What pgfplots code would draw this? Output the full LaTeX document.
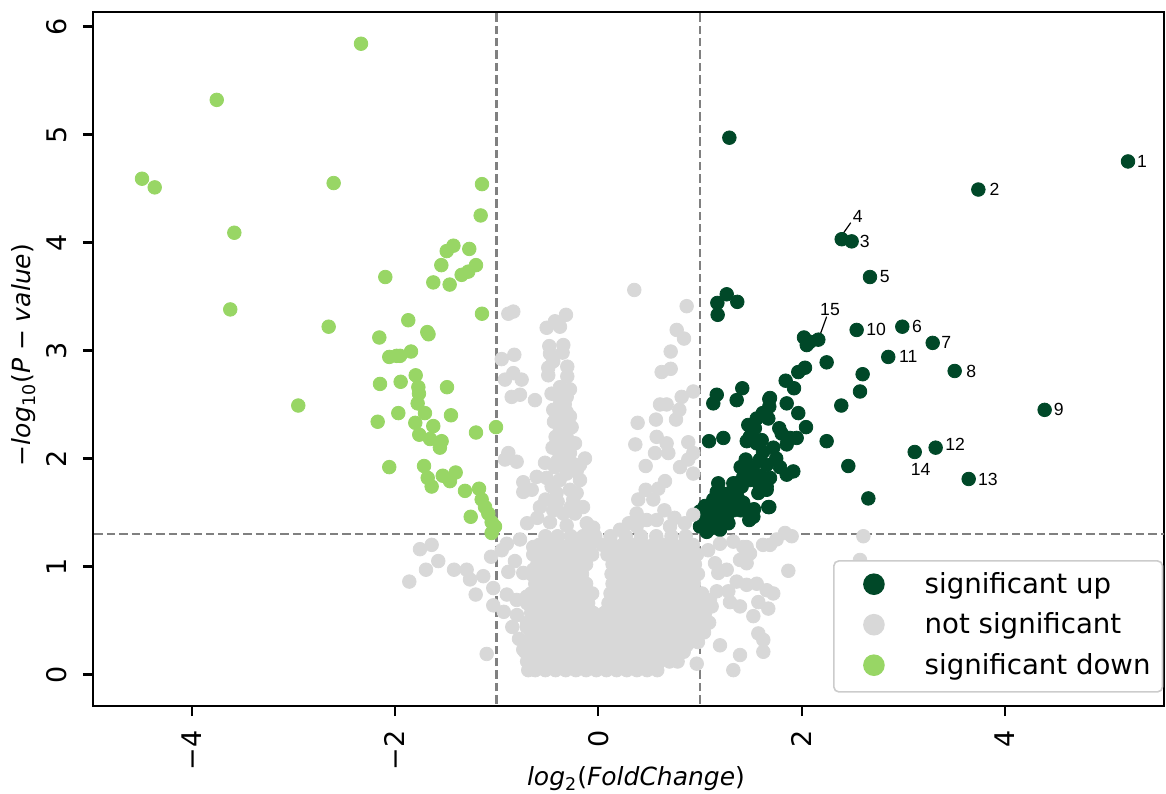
\documentclass[border=0pt]{standalone}
\usepackage{fontspec}
\setmainfont{DejaVu Sans}
\newfontfamily\labelfont{Liberation Sans}
\usepackage{pgfplots}
\pgfplotsset{compat=1.18}
\definecolor{upc}{RGB}{0,72,40}
\definecolor{nsc}{RGB}{216,216,216}
\definecolor{downc}{RGB}{152,214,101}
\newcommand{\ptlab}{\labelfont\fontsize{8.8}{10}\selectfont}
\begin{document}
\begin{tikzpicture}
\useasboundingbox (-46.5pt,-43.5pt) rectangle (536.5pt,353pt);
\begin{axis}[
  scale only axis, width=535.5pt, height=346.85pt,
  xmin=-4.97, xmax=5.564, ymin=-0.292, ymax=6.131,
  axis line style={line width=1.1pt},
  xtick={-4,-2,0,2,4}, xticklabels={−4,−2,0,2,4},
  ytick={0,1,2,3,4,5,6}, yticklabels={0,1,2,3,4,5,6},
  xtick pos=left, ytick pos=left,
  tick align=outside, major tick length=5pt,
  tick style={line width=1.1pt, black},
  xticklabel style={font=\fontsize{13.5}{16}\selectfont, yshift=-7pt, rotate=90, anchor=east, inner sep=0pt},
  yticklabel style={font=\fontsize{13.5}{16}\selectfont, xshift=-8pt, rotate=90, anchor=base, inner sep=0pt},
  xlabel={{\itshape log}\textsubscript{\upshape 2}({\itshape FoldChange})},
  xlabel style={at={(axis description cs:0.507,-0.1153)}, anchor=base, font=\fontsize{12.5}{15}\selectfont},
  ylabel={−{\itshape log}\textsubscript{\upshape 10}({\itshape P} − {\itshape value})},
  ylabel style={at={(axis description cs:-0.0579,0.506)}, anchor=base, font=\fontsize{12.5}{15}\selectfont},
  legend cell align=left,
  legend image code/.code={\fill (0pt,0.85pt) circle (5pt); \path (-13.65pt,0pt);},
  legend style={at={(axis description cs:1,0)}, anchor=south east, xshift=-0.35pt, yshift=6.65pt,
    draw=black!20, line width=0.8pt, rounded corners=2.5pt, fill=white,
    font=\fontsize{13.8}{16}\selectfont, inner xsep=6pt, inner ysep=5.8pt, row sep=6.85pt,
    nodes={inner sep=0pt, text height=10.4pt, text depth=3pt},
    /tikz/every odd column/.append style={column sep=20pt}},
]
% significant up
\addplot[only marks, color=upc, mark=*, mark size=3.4pt, mark options={draw=none}] coordinates {
(1.289,4.97) (5.210,4.75) (3.738,4.49) (2.394,4.03) (2.492,4.01) (2.672,3.68)
(1.263,3.52) (1.171,3.44) (1.367,3.45) (1.174,3.33) (2.541,3.19) (2.990,3.22)
(3.289,3.07) (2.852,2.94) (3.505,2.81) (4.390,2.45) (3.318,2.10) (3.112,2.06)
(3.643,1.81) (2.023,3.12) (2.082,3.08) (2.164,3.10) (2.050,3.05) (2.246,2.89)
(2.600,2.78) (2.574,2.62) (2.390,2.49) (2.246,2.16) (2.459,1.93) (2.656,1.63)
(1.967,2.80) (2.033,2.84) (1.843,2.72) (1.925,2.65) (1.416,2.65) (1.165,2.59)
(1.131,2.51) (1.361,2.54) (1.682,2.55) (1.682,2.48) (1.853,2.51) (1.967,2.42)
(2.043,2.29) (1.617,2.42) (1.558,2.37) (1.475,2.31) (1.672,2.37) (1.089,2.16)
(1.230,2.19) (1.460,2.16) (1.490,2.20) (1.607,2.17) (1.721,2.10) (1.804,2.23)
(1.886,2.19) (1.951,2.19) (1.853,2.13) (1.450,1.99) (1.590,1.99) (1.656,1.94)
(1.787,1.92) (1.853,1.85) (1.918,1.88) (1.689,1.82) (1.656,1.74) (1.180,1.77)
(1.328,1.77) (1.410,1.74) (1.492,1.80) (1.541,1.83) (1.165,1.69) (1.263,1.66)
(1.361,1.68) (1.574,1.68) (1.148,1.62) (1.230,1.59) (1.682,1.55) (1.531,1.53)
(1.485,1.43) (1.000,1.51) (1.099,1.49) (1.197,1.46) (1.263,1.46) (1.033,1.40)
(1.115,1.37) (1.197,1.34) (1.066,1.32) (1.689,2.56) (1.508,2.22) (1.558,2.14)
(1.214,1.68) (1.295,1.68) (1.361,1.77) (1.426,1.83) (1.492,1.88) (1.590,1.74)
(1.656,1.71) (1.131,1.62) (1.230,1.55) (1.328,1.52) (1.426,1.59) (1.508,1.52)
(1.525,1.46) (1.672,1.55) (1.000,1.49) (1.066,1.43) (1.165,1.49) (1.230,1.46)
(1.099,1.35) (1.197,1.35) (1.000,1.37) (1.050,1.56) (1.120,1.53) (1.300,1.60)
(1.380,1.62) (1.050,1.45) (1.150,1.41) (1.280,1.40) (1.400,1.52) (1.600,1.84)
(1.750,2.00) (1.780,2.28) (1.540,2.28) (1.620,2.06) (1.520,1.92) (1.400,1.92)
};
\addlegendentry{significant up}
% not significant
\addplot[only marks, color=nsc, mark=*, mark size=3.4pt, mark options={draw=none}] coordinates {
(0.354,3.56) (0.869,3.41) (0.771,3.19) (0.843,3.11) (0.712,2.99) (0.623,2.80)
(0.712,2.83) (0.820,2.57) (0.934,2.62) (0.607,2.50) (0.672,2.50) (0.797,2.45)
(0.764,2.36) (0.387,2.33) (0.567,2.36) (0.364,2.13) (0.574,2.20) (0.672,2.14)
(0.558,2.05) (0.689,2.05) (0.885,2.15) (0.466,1.93) (0.804,1.92) (0.885,1.99)
(0.934,2.05) (0.934,1.86) (0.656,1.79) (0.590,1.72) (0.466,1.71) (0.393,1.62)
(0.541,1.62) (0.377,1.49) (0.476,1.43) (0.574,1.43) (0.705,1.37) (0.213,1.34)
(0.377,1.37) (0.934,1.48) (0.750,1.45) (0.850,1.40) (0.650,1.52) (0.300,1.40)
(-0.885,3.34) (-0.836,3.36) (-0.508,3.21) (-0.426,3.27) (-0.318,3.33) (-0.377,3.22)
(-0.482,3.04) (-0.344,3.05) (-0.475,2.97) (-0.351,2.98) (-0.950,2.92) (-0.826,2.96)
(-0.443,2.90) (-0.492,2.84) (-0.305,2.85) (-0.492,2.77) (-0.305,2.76) (-0.836,2.79)
(-0.918,2.73) (-0.754,2.73) (-0.377,2.66) (-0.279,2.64) (-0.311,2.57) (-0.852,2.57)
(-0.770,2.59) (-0.623,2.54) (-0.443,2.45) (-0.377,2.50) (-0.311,2.43) (-0.436,2.34)
(-0.360,2.36) (-0.279,2.39) (-0.377,2.26) (-0.262,2.29) (-0.311,2.20) (-0.344,2.14)
(-0.229,2.14) (-0.377,2.05) (-0.279,2.05) (-0.885,2.05) (-0.803,1.97) (-0.918,1.99)
(-0.131,2.00) (-0.180,1.94) (-0.524,1.96) (-0.426,1.92) (-0.344,1.94) (-0.311,1.86)
(-0.213,1.88) (-0.180,1.80) (-0.606,1.83) (-0.508,1.82) (-0.738,1.78) (-0.738,1.69)
(-0.655,1.71) (-0.459,1.74) (-0.410,1.68) (-0.279,1.71) (-0.213,1.68) (-0.246,1.62)
(-0.574,1.55) (-0.443,1.52) (-0.344,1.49) (-0.229,1.49) (-0.114,1.40) (-0.475,1.41)
(-0.311,1.38) (-0.400,2.58) (-0.330,2.50) (-0.420,2.20) (-0.300,2.32) (-0.380,1.80)
(-0.270,1.55) (-0.400,1.60) (-0.520,1.62) (-0.150,1.55) (-0.600,1.45) (-0.700,1.40)
(-0.050,1.36) (-0.450,2.10) (-0.400,1.98) (-0.460,2.60) (-0.250,1.95)
(-1.754,1.16) (-1.639,1.20) (-1.574,1.05) (-1.695,0.97) (-1.859,0.86) (-1.419,0.97)
(-1.295,0.97) (-1.262,0.88) (-1.131,0.91) (-1.206,0.74) (-1.055,1.09) (-1.033,0.80)
(-1.033,0.64) (-1.098,0.19) (-0.900,1.21) (-0.770,1.25) (-0.640,1.18) (-0.885,0.95)
(-0.738,0.94) (-0.640,0.97) (-0.900,0.74) (-0.803,0.69) (-0.705,0.72) (-0.846,0.44)
(-0.705,0.44) (-0.738,0.23) (-0.689,0.04) (-0.606,0.26) (-0.80,0.55) (-0.82,1.05)
(-0.95,1.15) (-0.78,0.33) (-0.93,0.58)
(1.869,0.96) (2.607,1.28) (2.574,1.06) (1.836,1.31) (1.902,1.28) (1.689,1.20)
(1.754,1.25) (1.328,1.23) (1.426,1.18) (1.492,1.12) (1.459,1.03) (1.394,1.06)
(1.263,0.97) (1.148,1.03) (1.180,0.94) (1.361,0.86) (1.459,0.83) (1.558,0.84)
(1.656,0.78) (1.721,0.75) (1.165,0.77) (1.279,0.77) (1.295,0.67) (1.394,0.63)
(1.525,0.54) (1.574,0.67) (1.672,0.61) (1.115,0.63) (1.099,0.69) (1.574,0.38)
(1.623,0.32) (1.197,0.27) (1.394,0.18) (1.623,0.21) (1.328,0.04) (0.968,0.10)
(0.869,0.27) (1.197,1.21) (1.459,1.18) (1.620,1.20) (1.080,1.15)
(-0.62,0.04) (-0.52,0.04) (-0.42,0.04) (-0.32,0.04) (-0.22,0.04) (-0.12,0.04) (-0.02,0.04)
(0.08,0.04) (0.18,0.04) (0.28,0.04) (0.38,0.04) (0.48,0.04) (0.58,0.04)
(-0.70,0.12) (-0.60,0.12) (-0.50,0.12) (-0.40,0.12) (-0.30,0.12) (-0.20,0.12) (-0.10,0.12)
(0.00,0.12) (0.10,0.12) (0.20,0.12) (0.30,0.12) (0.40,0.12) (0.50,0.12) (0.60,0.12)
(0.70,0.12) (0.78,0.12)
(-0.72,0.21) (-0.65,0.21) (-0.55,0.21) (-0.45,0.21) (-0.35,0.21) (-0.25,0.21) (-0.15,0.21)
(-0.05,0.21) (0.05,0.21) (0.15,0.21) (0.25,0.21) (0.35,0.21) (0.45,0.21) (0.55,0.21)
(0.65,0.21) (0.75,0.21) (0.84,0.21)
(-0.70,0.30) (-0.60,0.30) (-0.50,0.30) (-0.40,0.30) (-0.30,0.30) (-0.20,0.30) (-0.10,0.30)
(0.00,0.30) (0.10,0.30) (0.20,0.30) (0.30,0.30) (0.40,0.30) (0.50,0.30) (0.60,0.30)
(0.70,0.30) (0.80,0.30) (0.90,0.30) (0.98,0.30)
(-0.66,0.39) (-0.55,0.39) (-0.45,0.39) (-0.35,0.39) (-0.25,0.39) (-0.15,0.39) (-0.05,0.39)
(0.05,0.39) (0.15,0.39) (0.25,0.39) (0.35,0.39) (0.45,0.39) (0.55,0.39) (0.65,0.39)
(0.75,0.39) (0.85,0.39) (0.95,0.39) (1.04,0.39)
(-0.70,0.48) (-0.60,0.48) (-0.50,0.48) (-0.40,0.48) (-0.30,0.48) (-0.20,0.48) (-0.10,0.48)
(0.00,0.48) (0.10,0.48) (0.20,0.48) (0.30,0.48) (0.40,0.48) (0.50,0.48) (0.60,0.48)
(0.70,0.48) (0.80,0.48) (0.90,0.48) (1.00,0.48) (1.09,0.48)
(-0.66,0.57) (-0.55,0.57) (-0.45,0.57) (-0.35,0.57) (-0.25,0.57) (-0.15,0.57) (-0.05,0.57)
(0.06,0.57) (0.15,0.57) (0.25,0.57) (0.35,0.57) (0.45,0.57) (0.55,0.57) (0.65,0.57)
(0.75,0.57) (0.85,0.57) (0.95,0.57) (1.05,0.57)
(-0.70,0.66) (-0.60,0.66) (-0.50,0.66) (-0.40,0.66) (-0.30,0.66) (-0.20,0.66) (-0.10,0.66)
(0.10,0.66) (0.20,0.66) (0.30,0.66) (0.40,0.66) (0.50,0.66) (0.60,0.66) (0.70,0.66)
(0.80,0.66) (0.90,0.66) (1.00,0.66)
(-0.66,0.75) (-0.55,0.75) (-0.45,0.75) (-0.35,0.75) (-0.25,0.75) (-0.15,0.75) (-0.06,0.75)
(0.12,0.75) (0.22,0.75) (0.32,0.75) (0.42,0.75) (0.52,0.75) (0.62,0.75) (0.72,0.75)
(0.82,0.75) (0.92,0.75) (1.02,0.75)
(-0.62,0.84) (-0.52,0.84) (-0.42,0.84) (-0.32,0.84) (-0.22,0.84) (-0.12,0.84)
(0.14,0.84) (0.24,0.84) (0.34,0.84) (0.44,0.84) (0.54,0.84) (0.64,0.84) (0.74,0.84)
(0.84,0.84) (0.94,0.84)
(-0.66,0.93) (-0.56,0.93) (-0.46,0.93) (-0.36,0.93) (-0.26,0.93) (-0.16,0.93)
(0.13,0.93) (0.20,0.93) (0.30,0.93) (0.40,0.93) (0.50,0.93) (0.60,0.93) (0.70,0.93)
(0.80,0.93) (0.90,0.93) (0.98,0.93)
(-0.60,1.02) (-0.50,1.02) (-0.40,1.02) (-0.30,1.02) (-0.20,1.02) (-0.12,1.02)
(0.14,1.02) (0.25,1.02) (0.35,1.02) (0.45,1.02) (0.55,1.02) (0.65,1.02) (0.75,1.02)
(0.85,1.02) (0.95,1.02)
(-0.64,1.11) (-0.55,1.11) (-0.45,1.11) (-0.35,1.11) (-0.25,1.11) (-0.15,1.11) (-0.06,1.11)
(0.09,1.11) (0.19,1.11) (0.29,1.11) (0.39,1.11) (0.49,1.11) (0.59,1.11) (0.69,1.11)
(0.79,1.11) (0.89,1.11) (0.97,1.11)
(-0.58,1.20) (-0.48,1.20) (-0.38,1.20) (-0.28,1.20) (-0.18,1.20) (-0.08,1.20)
(0.04,1.20) (0.14,1.20) (0.24,1.20) (0.34,1.20) (0.44,1.20) (0.54,1.20) (0.64,1.20)
(0.74,1.20) (0.84,1.20) (0.93,1.20)
(-0.52,1.28) (-0.40,1.28) (-0.27,1.28) (-0.15,1.28) (-0.03,1.28) (0.12,1.28) (0.27,1.28)
(0.42,1.28) (0.57,1.28) (0.72,1.28) (0.86,1.28)
};
\addlegendentry{not significant}
% significant down
\addplot[only marks, color=downc, mark=*, mark size=3.4pt, mark options={draw=none}] coordinates {
(-2.334,5.84) (-3.753,5.32) (-4.488,4.59) (-4.363,4.51) (-2.603,4.55) (-3.580,4.09)
(-3.620,3.38) (-2.095,3.68) (-2.652,3.22) (-2.154,3.12) (-2.056,2.94) (-1.983,2.95)
(-2.147,2.69) (-2.951,2.49) (-2.170,2.34) (-2.056,1.92) (-1.967,2.42) (-1.144,4.54)
(-1.157,4.25) (-1.425,3.97) (-1.491,3.92) (-1.269,3.94) (-1.544,3.79) (-1.203,3.79)
(-1.279,3.73) (-1.344,3.70) (-1.623,3.63) (-1.462,3.61) (-1.144,3.34) (-1.869,3.28)
(-1.682,3.17) (-1.950,2.95) (-1.842,2.99) (-1.796,2.77) (-1.944,2.71) (-1.770,2.66)
(-1.764,2.60) (-1.488,2.66) (-1.777,2.51) (-1.705,2.42) (-1.449,2.40) (-1.800,2.33)
(-1.623,2.30) (-1.761,2.22) (-1.655,2.18) (-1.541,2.16) (-1.558,2.10) (-1.203,2.24)
(-1.006,2.29) (-1.714,1.93) (-1.678,1.82) (-1.639,1.74) (-1.530,1.84) (-1.459,1.79)
(-1.403,1.87) (-1.311,1.70) (-1.173,1.72) (-1.147,1.62) (-1.114,1.55) (-1.082,1.49)
(-1.255,1.46) (-1.049,1.41) (-1.016,1.37) (-1.049,1.31) (-1.670,3.15)
};
\addlegendentry{significant down}
% thresholds
\addplot[forget plot, color=gray, line width=1.3pt, dash pattern=on 4.2pt off 2pt] coordinates {(-1,-0.5) (-1,6.5)};
\addplot[forget plot, color=gray, line width=1.3pt, dash pattern=on 4.2pt off 2pt] coordinates {(1,-0.5) (1,6.5)};
\addplot[forget plot, color=gray, line width=1.3pt, dash pattern=on 4.2pt off 2pt] coordinates {(-5.2,1.301) (5.8,1.301)};
% point labels
\node[anchor=west, inner sep=0pt, xshift=4.4pt, font=\ptlab] at (axis cs:5.210,4.75) {1};
\node[anchor=west, inner sep=0pt, xshift=5.4pt, font=\ptlab] at (axis cs:3.738,4.49) {2};
\node[anchor=west, inner sep=0pt, xshift=3.9pt, font=\ptlab] at (axis cs:2.492,4.01) {3};
\node[anchor=center, inner sep=0pt, font=\ptlab] at (axis cs:2.551,4.239) {4};
\node[anchor=west, inner sep=0pt, xshift=4.7pt, font=\ptlab] at (axis cs:2.672,3.68) {5};
\node[anchor=west, inner sep=0pt, xshift=4.7pt, font=\ptlab] at (axis cs:2.990,3.22) {6};
\node[anchor=west, inner sep=0pt, xshift=4.2pt, font=\ptlab] at (axis cs:3.289,3.07) {7};
\node[anchor=west, inner sep=0pt, xshift=5.7pt, font=\ptlab] at (axis cs:3.505,2.81) {8};
\node[anchor=west, inner sep=0pt, xshift=4.4pt, font=\ptlab] at (axis cs:4.390,2.45) {9};
\node[anchor=west, inner sep=0pt, xshift=4.7pt, font=\ptlab] at (axis cs:2.541,3.19) {10};
\node[anchor=west, inner sep=0pt, xshift=5.2pt, font=\ptlab] at (axis cs:2.852,2.94) {11};
\node[anchor=west, inner sep=0pt, xshift=4.7pt, yshift=1.5pt, font=\ptlab] at (axis cs:3.318,2.10) {12};
\node[anchor=west, inner sep=0pt, xshift=4.5pt, font=\ptlab] at (axis cs:3.643,1.81) {13};
\node[anchor=center, inner sep=0pt, font=\ptlab] at (axis cs:3.171,1.894) {14};
\node[anchor=center, inner sep=0pt, font=\ptlab] at (axis cs:2.279,3.381) {15};
\draw[line width=0.6pt] (axis cs:2.410,4.085) -- (axis cs:2.483,4.183);
\draw[line width=0.6pt] (axis cs:2.181,3.144) -- (axis cs:2.246,3.313);
\end{axis}
\end{tikzpicture}
\end{document}
